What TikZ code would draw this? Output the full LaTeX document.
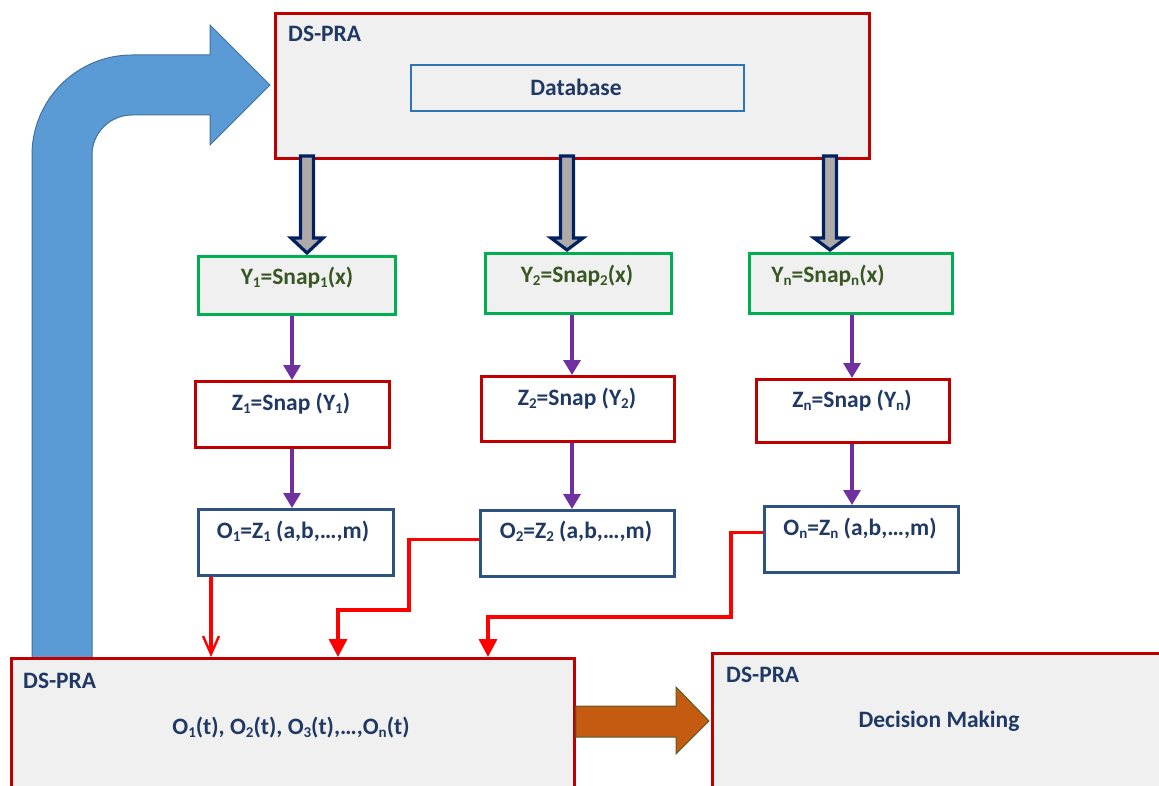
\documentclass[tikz,border=0pt]{standalone}
\usepackage{fontspec}
\setmainfont{Carlito}
\usetikzlibrary{arrows.meta,calc}
\definecolor{boxred}{HTML}{C00000}
\definecolor{boxfill}{HTML}{F0F0F0}
\definecolor{dbblue}{HTML}{2E75B6}
\definecolor{ygreen}{HTML}{00B050}
\definecolor{ytext}{HTML}{385723}
\definecolor{navy}{HTML}{1F3864}
\definecolor{oblue}{HTML}{2E5281}
\definecolor{purp}{HTML}{7030A0}
\definecolor{lred}{HTML}{FF0000}
\definecolor{bfill}{HTML}{5B9BD5}
\definecolor{bedge}{HTML}{41719C}
\definecolor{brown}{HTML}{C55A11}
\definecolor{brownedge}{HTML}{4E6128}
\definecolor{garrfill}{HTML}{AEAAAA}
\definecolor{garredge}{HTML}{002060}
\newcommand{\sbs}[1]{\raisebox{-0.1em}{\fontsize{15}{15}\selectfont #1}}
\tikzset{
  every node/.style={font=\fontsize{23.5}{28}\selectfont\bfseries, inner sep=0pt},
  bigbox/.style={draw=boxred, line width=2.8pt, fill=boxfill, anchor=north west},
  dbbox/.style={draw=dbblue, line width=2.4pt, fill=boxfill, anchor=north west},
  ybox/.style={draw=ygreen, line width=3pt, fill=boxfill, anchor=north west},
  zbox/.style={draw=boxred, line width=3.2pt, fill=white, anchor=north west},
  obox/.style={draw=oblue, line width=3pt, fill=white, anchor=north west},
  navytext/.style={text=navy},
  greentext/.style={text=ytext},
  parrow/.style={draw=purp, line width=3.2pt, -{Triangle[length=15pt,width=17pt]}},
  rline/.style={draw=lred, line width=3.4pt},
  rarrowopen/.style={rline, -{Straight Barb[length=18pt,width=16pt,line width=2.4pt]}},
  rarrow/.style={rline, -{Triangle[length=18pt,width=18pt]}},
  garr/.style={draw=garredge, fill=garrfill, line width=3.2pt, line join=miter},
  barr/.style={draw=bedge, fill=bfill, line width=1pt},
  brarr/.style={draw=brownedge, fill=brown, line width=1pt},
}
\begin{document}
\begin{tikzpicture}[x=1pt,y=-1pt]
\useasboundingbox (0,0) rectangle (1159,786);
\clip (0,0) rectangle (1159,786);

% big blue bent arrow
\draw[barr] (32,659) -- (32,155) arc[start angle=180,end angle=270,radius=100]
  -- (210,55) -- (210,25) -- (270,85) -- (210,145) -- (210,115) -- (132,115)
  arc[start angle=270,end angle=180,radius=40] -- (92,659) -- cycle;

% top box
\node[bigbox, minimum width=594pt, minimum height=145pt] (top) at (274,12) {};
\node[navytext, anchor=base west] (toplbl) at (288,42) {DS-PRA};
\node[dbbox, minimum width=333pt, minimum height=46pt] (db) at (410,64) {};
\node[navytext] (dbt) at (576,87) {Database};

% Y boxes
\node[ybox, minimum width=197pt, minimum height=58pt] (y1) at (197,255) {};
\node[ybox, minimum width=186pt, minimum height=60pt] (y2) at (484,252) {};
\node[ybox, minimum width=203pt, minimum height=60pt] (yn) at (748,252) {};
\node[greentext] (y1t) at (297,278) {Y\sbs{1}=Snap\sbs{1}(x)};
\node[greentext] (y2t) at (577,276) {Y\sbs{2}=Snap\sbs{2}(x)};
\node[greentext] (ynt) at (828,276) {Y\sbs{n}=Snap\sbs{n}(x)};

% gray arrows
\coordinate (g1) at (307,156);
\coordinate (g2) at (567,156);
\coordinate (g3) at (830,156);
\foreach \g/\t in {g1/y1,g2/y2,g3/yn}{
  \draw[garr] ($(\g)+(-6.5,0)$) -- ++(0,82) -- ++(-9.5,0) -- ($(\g |- \t.north)+(0,-2)$)
     -- ($(\g)+(16,82)$) -- ++(-9.5,0) -- ++(0,-82) -- cycle;
}

% Z boxes
\node[zbox, minimum width=194pt, minimum height=66pt] (z1) at (194,380) {};
\node[zbox, minimum width=193pt, minimum height=65pt] (z2) at (480,375) {};
\node[zbox, minimum width=193pt, minimum height=63pt] (zn) at (755,378) {};
\node[navytext] (z1t) at (291,404) {Z\sbs{1}=Snap (Y\sbs{1})};
\node[navytext] (z2t) at (577,399) {Z\sbs{2}=Snap (Y\sbs{2})};
\node[navytext] (znt) at (852,401) {Z\sbs{n}=Snap (Y\sbs{n})};

% O boxes
\node[obox, minimum width=195pt, minimum height=66pt] (o1) at (197,508) {};
\node[obox, minimum width=194pt, minimum height=66pt] (o2) at (479,509) {};
\node[obox, minimum width=194pt, minimum height=66pt] (on) at (763,505) {};
\node[navytext] (o1t) at (293,532) {O\sbs{1}=Z\sbs{1} (a,b,\dots,m)};
\node[navytext] (o2t) at (576,532) {O\sbs{2}=Z\sbs{2} (a,b,\dots,m)};
\node[navytext] (ont) at (860,529) {O\sbs{n}=Z\sbs{n} (a,b,\dots,m)};

% purple arrows
\coordinate (p1) at (292,0);
\coordinate (p2) at (572,0);
\coordinate (p3) at (852,0);
\draw[parrow] (p1 |- y1.south) -- (p1 |- z1.north);
\draw[parrow] (p1 |- z1.south) -- (p1 |- o1.north);
\draw[parrow] (p2 |- y2.south) -- (p2 |- z2.north);
\draw[parrow] (p2 |- z2.south) -- (p2 |- o2.north);
\draw[parrow] (p3 |- yn.south) -- (p3 |- zn.north);
\draw[parrow] (p3 |- zn.south) -- (p3 |- on.north);

% bottom boxes
\node[bigbox, minimum width=563pt, minimum height=160pt] (oall) at (10,657) {};
\node[navytext, anchor=base west] (oalllbl) at (23,688) {DS-PRA};
\node[navytext] (oallt) at (291,728) {O\sbs{1}(t), O\sbs{2}(t), O\sbs{3}(t),\dots,O\sbs{n}(t)};
\node[bigbox, minimum width=480pt, minimum height=160pt] (dm) at (711,652) {};
\node[navytext, anchor=base west] (dmlbl) at (726,682) {DS-PRA};
\node[navytext] (dmt) at (939,721) {Decision Making};

% brown arrow
\coordinate (bs1) at (0,706);
\coordinate (bs2) at (0,737);
\draw[brarr] (oall.east |- bs1) -- (676,706) -- (676,687) -- (709,721) -- (676,754)
  -- (676,737) -- (oall.east |- bs2) -- cycle;

% red connectors
\coordinate (r1) at (211,0);
\coordinate (r2a) at (409,610);
\coordinate (r2) at (338,0);
\coordinate (r3a) at (731,617);
\coordinate (r3) at (488,0);
\draw[rarrowopen] (r1 |- o1.south) -- (r1 |- oall.north);
\draw[rarrow] ([yshift=4pt]o2.west) -| (r2a) -| (r2 |- oall.north);
\draw[rarrow] ([yshift=7pt]on.west) -| (r3a) -| (r3 |- oall.north);
\end{tikzpicture}
\end{document}
